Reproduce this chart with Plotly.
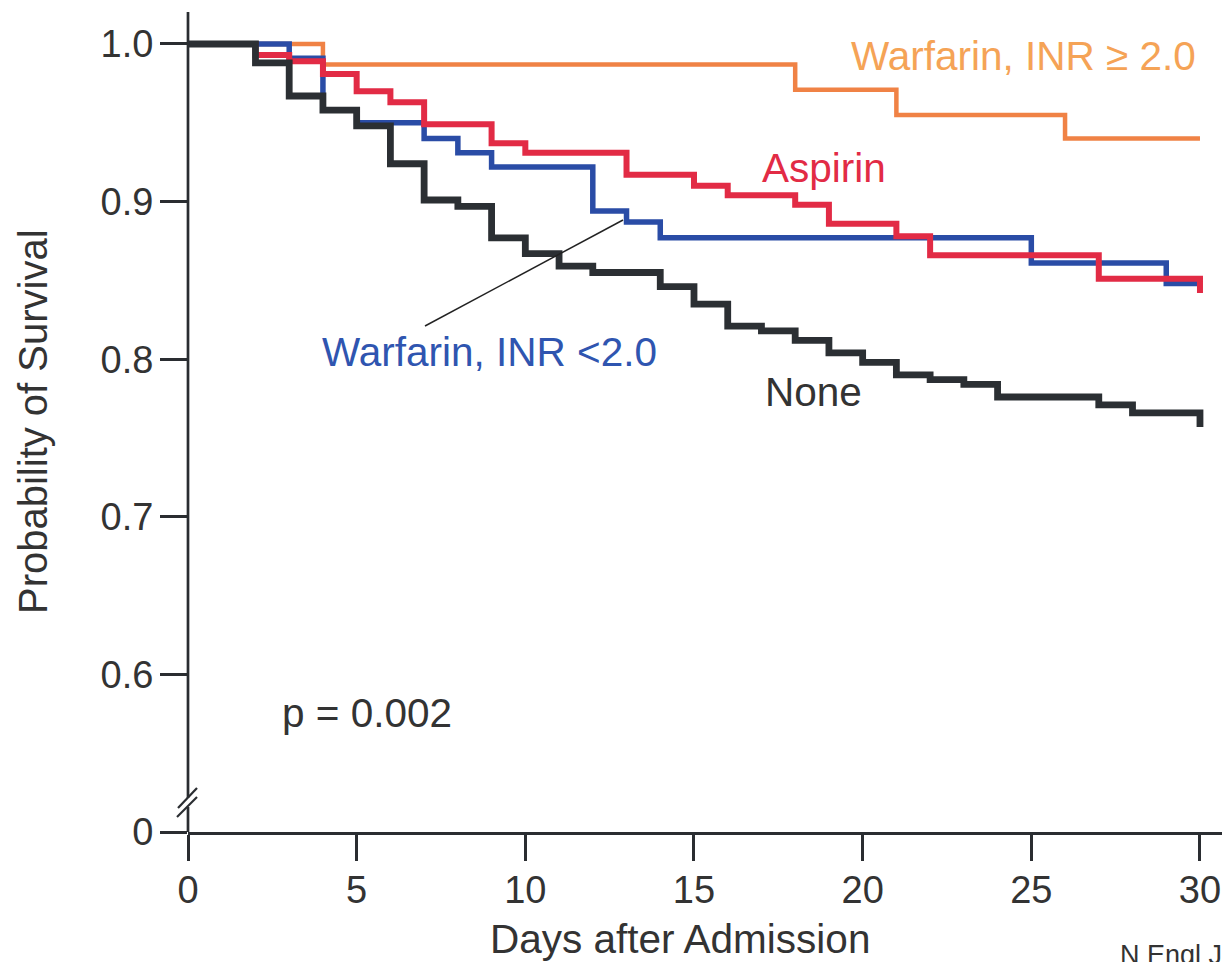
import plotly.graph_objects as go

# ---- data ----
days_none = [0, 2, 3, 4, 5, 6, 7, 8, 9, 10, 11, 12, 14, 15, 16, 17, 18, 19, 20, 21, 22, 23, 24, 27, 28, 30]
surv_none = [1.0, 0.988, 0.967, 0.958, 0.948, 0.924, 0.901, 0.897, 0.877, 0.867, 0.859, 0.855, 0.846,
             0.835, 0.821, 0.818, 0.812, 0.804, 0.798, 0.790, 0.787, 0.784, 0.776, 0.771, 0.766, 0.757]

days_aspirin = [0, 2, 3, 4, 5, 6, 7, 9, 10, 13, 15, 16, 18, 19, 21, 22, 27, 30]
surv_aspirin = [1.0, 0.993, 0.989, 0.981, 0.970, 0.963, 0.949, 0.937, 0.931, 0.917, 0.910, 0.904,
                0.898, 0.886, 0.878, 0.866, 0.851, 0.842]

days_warf_low = [0, 3, 4, 5, 7, 8, 9, 12, 13, 14, 25, 29, 30]
surv_warf_low = [1.0, 0.991, 0.958, 0.950, 0.940, 0.931, 0.922, 0.894, 0.887, 0.877, 0.861, 0.848, 0.848]

days_warf_high = [0, 4, 18, 21, 26, 30]
surv_warf_high = [1.0, 0.987, 0.971, 0.955, 0.940, 0.940]

x_ticks = [0, 5, 10, 15, 20, 25, 30]
y_ticks = [0.5, 0.6, 0.7, 0.8, 0.9, 1.0]
y_ticktext = ["0", "0.6", "0.7", "0.8", "0.9", "1.0"]

# ---- styling ----
FONT = "Liberation Sans, Arial, Helvetica, sans-serif"
AX = "#2a2d31"
TXT = "#333333"
C_ORANGE = "#F08245"
C_ORANGE_TXT = "#F5A356"
C_RED = "#E22B45"
C_BLUE = "#2A4CA6"
C_BLUE_TXT = "#2F55B0"
C_BLACK = "#2B2F33"

OFF = 8  # browser body margin
W, H = 1230 - OFF, 962 - OFF
L, R, T, B = 188 - OFF, 0, 12 - OFF, 130
PW, PH = W - L - R, H - T - B


def px_x(px):
    return (px - OFF - L) / PW


def px_y(py):
    return (H - B - (py - OFF)) / PH


fig = go.Figure()
for d, s, c, w in [
    (days_warf_high, surv_warf_high, C_ORANGE, 4.5),
    (days_warf_low, surv_warf_low, C_BLUE, 5.5),
    (days_aspirin, surv_aspirin, C_RED, 6),
    (days_none, surv_none, C_BLACK, 6.8),
]:
    fig.add_trace(go.Scatter(x=d, y=s, mode="lines", line=dict(color=c, width=w, shape="hv"),
                             showlegend=False, hoverinfo="skip"))

fig.update_layout(
    width=W, height=H, autosize=False,
    margin=dict(l=L, r=R, t=T, b=B, pad=0),
    paper_bgcolor="white", plot_bgcolor="white",
    font=dict(family=FONT, color=TXT),
    showlegend=False,
    xaxis=dict(range=[0, 30.89], tickvals=x_ticks, ticks="outside", ticklen=26, tickwidth=2.5,
               tickcolor=AX, showline=True, linewidth=3, linecolor=AX, showgrid=False,
               zeroline=False, tickfont=dict(size=38, color=TXT), ticklabelstandoff=-4),
    yaxis=dict(range=[0.5, 1.0203], tickvals=y_ticks, ticktext=y_ticktext, ticks="outside",
               ticklen=27, tickwidth=2.5, tickcolor=AX, showline=False, showgrid=False,
               zeroline=False, tickfont=dict(size=38, color=TXT), ticklabelstandoff=-1),
)

# y-axis line with break
shapes = [
    dict(type="line", xref="paper", yref="paper", x0=0, x1=0, y0=px_y(798), y1=1,
         line=dict(color=AX, width=2.7)),
    dict(type="line", xref="paper", yref="paper", x0=0, x1=0, y0=0, y1=px_y(807),
         line=dict(color=AX, width=2.7)),
    dict(type="line", xref="paper", yref="paper", x0=px_x(178), x1=px_x(197), y0=px_y(808), y1=px_y(788),
         line=dict(color=AX, width=2.2)),
    dict(type="line", xref="paper", yref="paper", x0=px_x(177), x1=px_x(197), y0=px_y(817), y1=px_y(797),
         line=dict(color=AX, width=2.2)),
    # pointer from label to blue curve
    dict(type="line", xref="paper", yref="paper", x0=px_x(425), x1=px_x(623), y0=px_y(326), y1=px_y(220),
         line=dict(color="#222222", width=1.5), layer="above"),
]
fig.update_layout(shapes=shapes)

ann = [
    dict(text="Warfarin, INR \u2265 2.0", x=px_x(1023), y=px_y(56), color=C_ORANGE_TXT),
    dict(text="Aspirin", x=px_x(824), y=px_y(168), color=C_RED),
    dict(text="Warfarin, INR <2.0", x=px_x(489), y=px_y(352), color=C_BLUE_TXT),
    dict(text="None", x=px_x(813), y=px_y(392), color=TXT),
    dict(text="p = 0.002", x=px_x(367), y=px_y(713), color=TXT),
    dict(text="Days after Admission", x=px_x(680), y=px_y(939), color=TXT),
]
for a in ann:
    fig.add_annotation(text=a["text"], x=a["x"], y=a["y"], xref="paper", yref="paper",
                       xanchor="center", yanchor="middle", showarrow=False,
                       font=dict(family=FONT, size=40.5, color=a["color"]))

fig.add_annotation(text="Probability of Survival", x=px_x(33), y=px_y(422), xref="paper", yref="paper",
                   xanchor="center", yanchor="middle", showarrow=False, textangle=-90,
                   font=dict(family=FONT, size=40, color=TXT))
fig.add_annotation(text="N Engl J Med", x=px_x(1118), y=px_y(938), xref="paper", yref="paper",
                   xanchor="left", yanchor="top", showarrow=False,
                   font=dict(family=FONT, size=27, color=TXT))

fig.write_html("out.html")
